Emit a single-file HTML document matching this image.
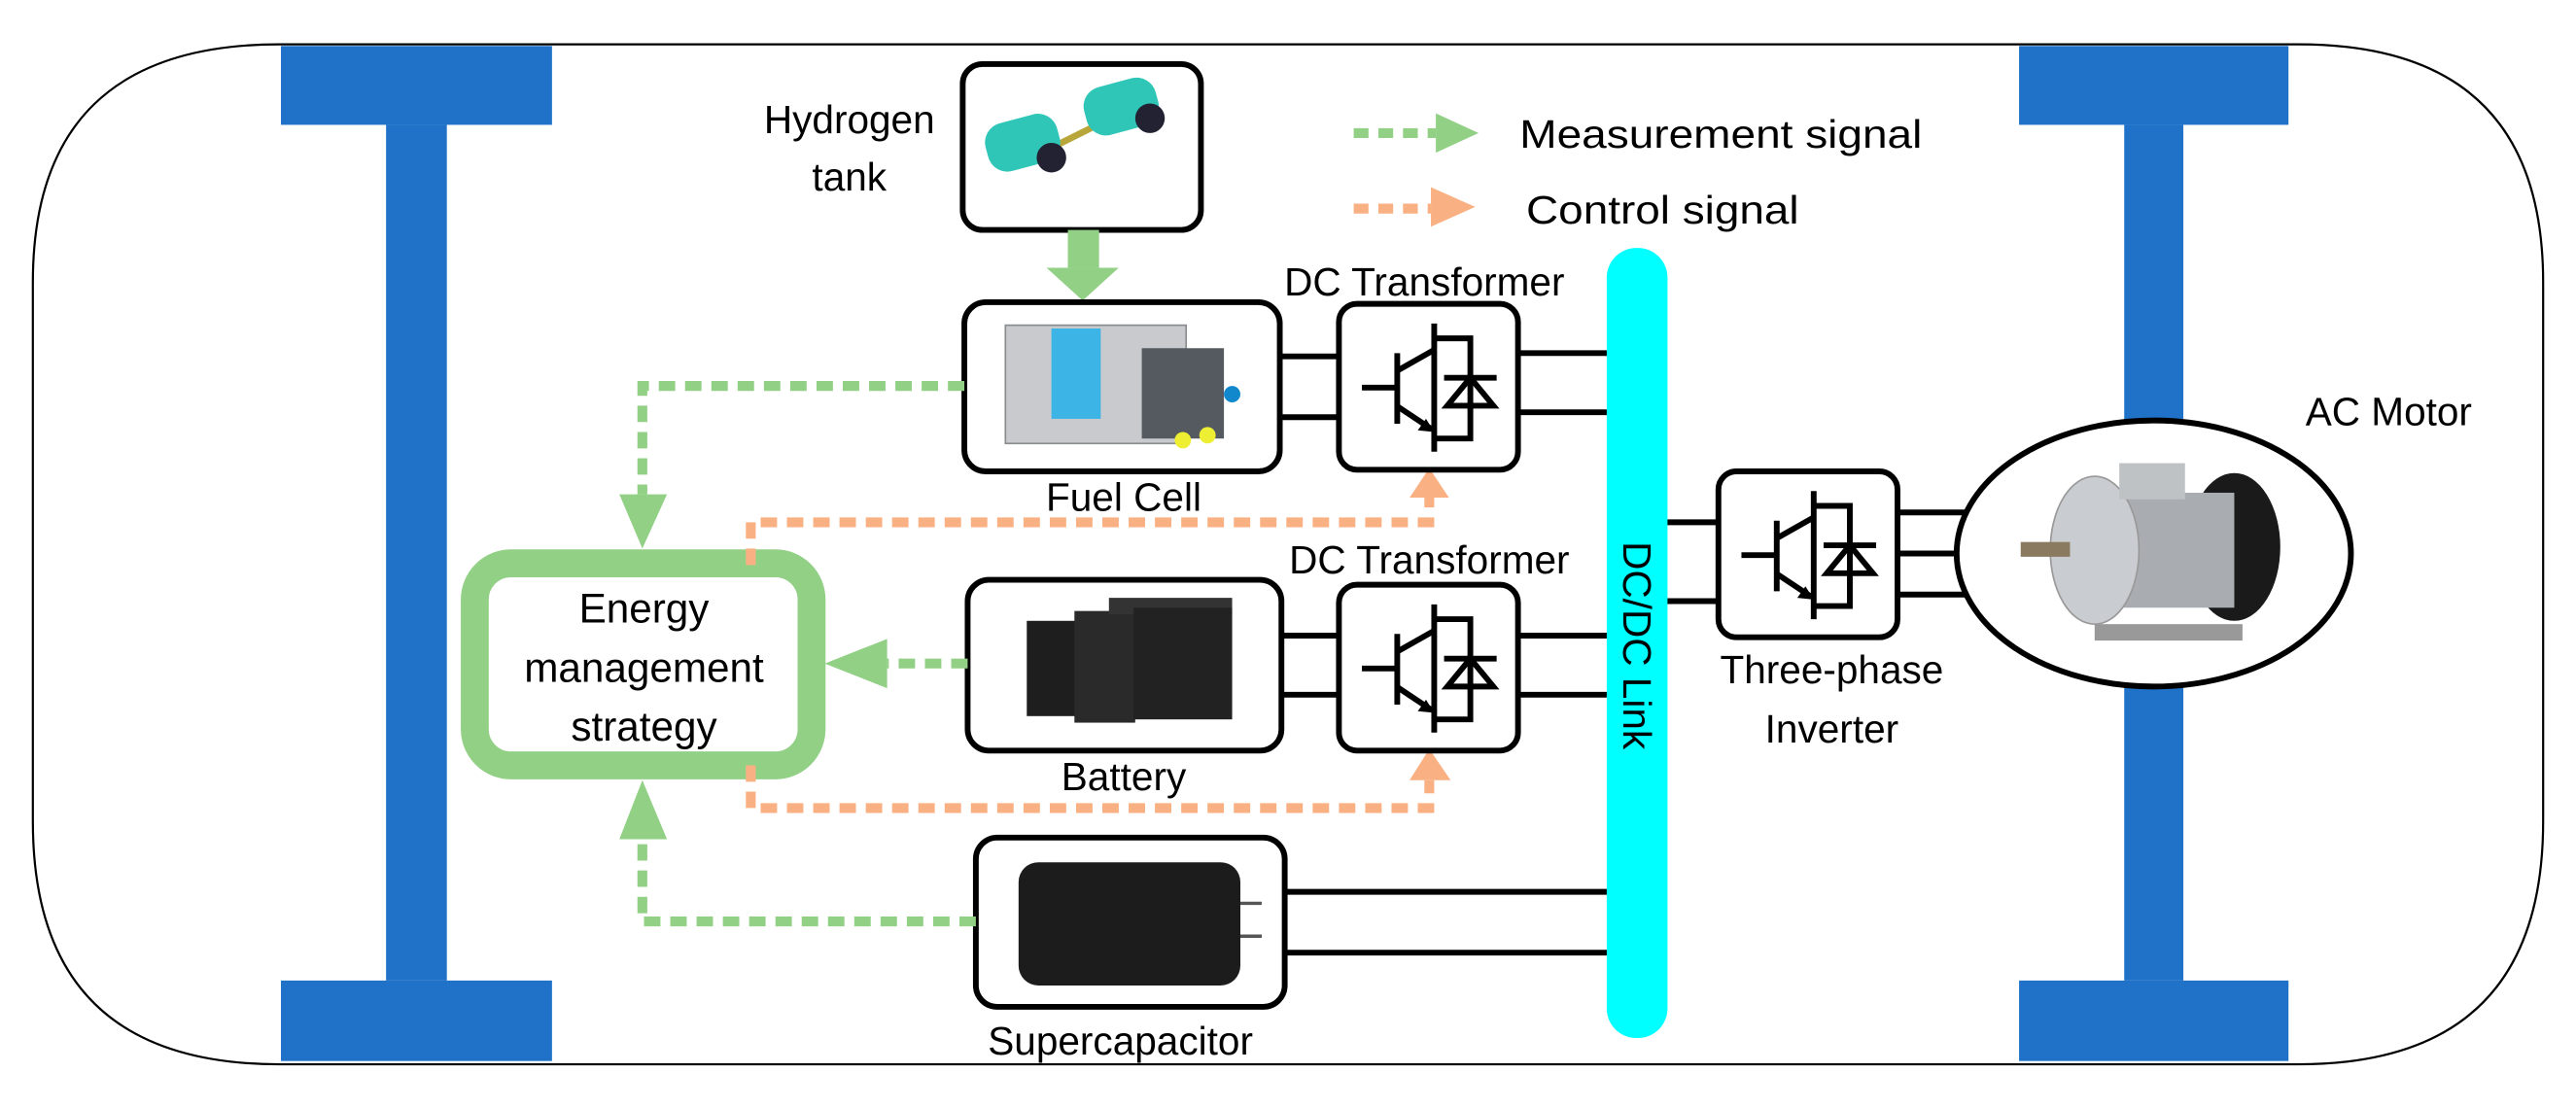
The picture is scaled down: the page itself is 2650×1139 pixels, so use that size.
<!DOCTYPE html>
<html><head><meta charset="utf-8"><style>
html,body{margin:0;padding:0;background:#fff;}
svg{display:block;}
text{font-family:"Liberation Sans",sans-serif;fill:#000;}
</style></head><body>
<svg width="2650" height="1139" viewBox="0 0 1568 674" preserveAspectRatio="none" xmlns="http://www.w3.org/2000/svg">
<defs>
<g id="sw">
 <rect x="0" y="0" width="109" height="101" rx="11" fill="#fff" stroke="#000" stroke-width="3.5"/>
 <g stroke="#000" stroke-width="3.5" fill="none">
  <line x1="14" y1="51" x2="35" y2="51"/>
  <line x1="35.5" y1="30" x2="35.5" y2="73"/>
  <line x1="58" y1="12" x2="58" y2="90"/>
  <line x1="35" y1="41" x2="58" y2="28"/>
  <line x1="35" y1="62" x2="56" y2="76"/>
  <polyline points="58,21 80,21 80,82 58,82"/>
  <line x1="64" y1="45" x2="96" y2="45"/>
 </g>
 <polygon points="80,45 66,62 94,62" fill="none" stroke="#000" stroke-width="3.5"/>
 <polygon points="58,78 48,77 53,70" fill="#000"/>
</g>
</defs>
<!-- chassis -->
<path d="M170,27 L1399,27 Q1548,27 1548,172 L1548,500 Q1548,648 1399,648 L170,648 Q20,648 20,500 L20,172 Q20,27 170,27 Z" fill="none" stroke="#000" stroke-width="1.3"/>
<!-- wheels -->
<g fill="#1f72c8">
 <rect x="171" y="28" width="165" height="48"/>
 <rect x="235" y="76" width="37" height="521"/>
 <rect x="171" y="597" width="165" height="49"/>
 <rect x="1229" y="28" width="164" height="48"/>
 <rect x="1293" y="76" width="36" height="197"/>
 <rect x="1293" y="402" width="36" height="195"/>
 <rect x="1229" y="597" width="164" height="49"/>
</g>
<!-- legend -->
<g stroke-width="6" stroke-dasharray="9,6" fill="none">
 <line x1="824" y1="81" x2="874" y2="81" stroke="#92d086"/>
 <line x1="824" y1="127" x2="871" y2="127" stroke="#f9b183"/>
</g>
<polygon points="874,69 900,81 874,93" fill="#92d086"/>
<polygon points="871,114 898,126 871,138" fill="#f9b183"/>
<text x="925" y="90" font-size="24" textLength="245" lengthAdjust="spacingAndGlyphs">Measurement signal</text>
<text x="929" y="136" font-size="24" textLength="166" lengthAdjust="spacingAndGlyphs">Control signal</text>
<!-- hydrogen tank -->
<text x="517" y="81" font-size="24" text-anchor="middle">Hydrogen</text>
<text x="517" y="116" font-size="24" text-anchor="middle">tank</text>
<rect x="586" y="39" width="145" height="101" rx="12" fill="#fff" stroke="#000" stroke-width="3.5"/>
<g>
 <line x1="620" y1="100" x2="690" y2="65" stroke="#b8a63a" stroke-width="4"/>
 <rect x="600" y="72" width="45" height="30" rx="12" fill="#2fc6b8" transform="rotate(-15 622 87)"/>
 <rect x="660" y="50" width="45" height="30" rx="12" fill="#2fc6b8" transform="rotate(-15 682 65)"/>
 <circle cx="640" cy="96" r="9" fill="#223"/>
 <circle cx="700" cy="72" r="9" fill="#223"/>
</g>
<!-- H2 arrow -->
<rect x="650" y="140" width="19" height="23" fill="#92d086"/>
<polygon points="637,163 681,163 659,183" fill="#92d086"/>
<!-- fuel cell -->
<rect x="587" y="184" width="192" height="103" rx="13" fill="#fff" stroke="#000" stroke-width="3.5"/>
<rect x="612" y="198" width="110" height="72" fill="#c8cacd" stroke="#8a8d90"/>
<rect x="640" y="200" width="30" height="55" fill="#3cb4e6"/>
<rect x="695" y="212" width="50" height="55" fill="#555a60"/>
<circle cx="720" cy="268" r="5" fill="#ee3"/><circle cx="735" cy="265" r="5" fill="#ee3"/><circle cx="750" cy="240" r="5" fill="#18c"/>
<text x="684" y="311" font-size="24" text-anchor="middle">Fuel Cell</text>
<!-- battery -->
<rect x="589" y="353" width="191" height="104" rx="13" fill="#fff" stroke="#000" stroke-width="3.5"/>
<rect x="625" y="378" width="36" height="58" fill="#1e1e1e"/>
<rect x="654" y="372" width="37" height="68" fill="#2a2a2a"/>
<rect x="675" y="364" width="75" height="10" fill="#333"/>
<rect x="690" y="370" width="60" height="68" fill="#222"/>
<text x="684" y="481" font-size="24" text-anchor="middle">Battery</text>
<!-- supercap -->
<rect x="594" y="510" width="188" height="103" rx="13" fill="#fff" stroke="#000" stroke-width="3.5"/>
<rect x="620" y="525" width="135" height="75" rx="12" fill="#1c1c1c"/>
<line x1="755" y1="550" x2="768" y2="550" stroke="#555" stroke-width="2"/>
<line x1="755" y1="570" x2="768" y2="570" stroke="#555" stroke-width="2"/>
<text x="682" y="642" font-size="24" text-anchor="middle">Supercapacitor</text>
<!-- EMS -->
<rect x="289" y="343" width="205" height="123" rx="22" fill="#fff" stroke="#92d086" stroke-width="17"/>
<text x="392" y="379" font-size="25" text-anchor="middle">Energy</text>
<text x="392" y="415" font-size="25" text-anchor="middle">management</text>
<text x="392" y="451" font-size="25" text-anchor="middle">strategy</text>
<!-- green dashed -->
<g stroke="#92d086" stroke-width="6" stroke-dasharray="10,6" fill="none">
 <polyline points="587,235 391,235 391,301"/>
 <line x1="589" y1="404" x2="540" y2="404"/>
 <polyline points="594,561 391,561 391,511"/>
</g>
<g fill="#92d086">
 <polygon points="377,301 406,301 391,334"/>
 <polygon points="540,389 540,419 502,404"/>
 <polygon points="377,511 406,511 391,475"/>
</g>
<!-- orange dashed -->
<g stroke="#f9b183" stroke-width="6" stroke-dasharray="10,6" fill="none">
 <polyline points="457,344 457,318 870,318 870,303"/>
 <polyline points="457,466 457,492 870,492 870,475"/>
</g>
<g fill="#f9b183">
 <polygon points="858,303 882,303 870,285"/>
 <polygon points="858,475 883,475 870,456"/>
</g>
<!-- power lines -->
<g stroke="#000" stroke-width="3.5">
 <line x1="779" y1="217" x2="815" y2="217"/><line x1="779" y1="254" x2="815" y2="254"/>
 <line x1="924" y1="215" x2="980" y2="215"/><line x1="924" y1="251" x2="980" y2="251"/>
 <line x1="780" y1="387" x2="815" y2="387"/><line x1="780" y1="423" x2="815" y2="423"/>
 <line x1="924" y1="387" x2="980" y2="387"/><line x1="924" y1="423" x2="980" y2="423"/>
 <line x1="782" y1="543" x2="980" y2="543"/><line x1="782" y1="580" x2="980" y2="580"/>
 <line x1="1013" y1="318" x2="1046" y2="318"/><line x1="1013" y1="366" x2="1046" y2="366"/>
 <line x1="1156" y1="312" x2="1198" y2="312"/><line x1="1156" y1="337" x2="1194" y2="337"/><line x1="1156" y1="362" x2="1198" y2="362"/>
</g>
<!-- transformers -->
<text x="867" y="180" font-size="24" text-anchor="middle">DC Transformer</text>
<use href="#sw" x="815" y="185"/>
<text x="870" y="349" font-size="24" text-anchor="middle">DC Transformer</text>
<use href="#sw" x="815" y="356"/>
<!-- DC link -->
<rect x="978" y="151" width="37" height="481" rx="18" fill="#00ffff"/>
<text transform="translate(988,393) rotate(90)" font-size="24" text-anchor="middle">DC/DC Link</text>
<!-- inverter -->
<use href="#sw" x="1046" y="287"/>
<text x="1115" y="416" font-size="24" text-anchor="middle">Three-phase</text>
<text x="1115" y="452" font-size="24" text-anchor="middle">Inverter</text>
<!-- motor -->
<ellipse cx="1311" cy="337" rx="120" ry="81" fill="#fff" stroke="#000" stroke-width="3.5"/>
<ellipse cx="1360" cy="333" rx="28" ry="45" fill="#1a1a1a"/>
<rect x="1275" y="300" width="85" height="70" fill="#a9adb1"/>
<ellipse cx="1275" cy="335" rx="27" ry="45" fill="#c9ccd0" stroke="#999"/>
<rect x="1290" y="282" width="40" height="22" fill="#bfc2c5"/>
<rect x="1230" y="330" width="30" height="9" fill="#8a7a60"/>
<rect x="1275" y="380" width="90" height="10" fill="#999"/>
<text x="1454" y="259" font-size="24" text-anchor="middle">AC Motor</text>
</svg>
</body></html>
